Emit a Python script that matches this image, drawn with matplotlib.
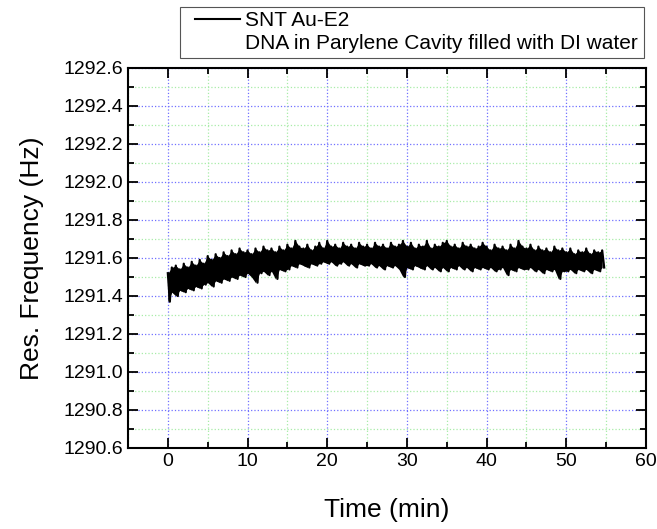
import numpy as np
import matplotlib.pyplot as plt
from matplotlib.lines import Line2D
from matplotlib.patches import Rectangle
from matplotlib.ticker import MultipleLocator

plt.rcParams['font.family'] = ['Liberation Sans', 'DejaVu Sans']

# time axis of the envelope readings (min), one reading every 0.5 min
t_start = 0.0
t_step = 0.5

# upper peaks of the trace (Hz)
upper = [
  1291.52, 1291.55, 1291.56, 1291.54, 1291.57, 1291.55, 1291.58, 1291.56, 1291.59, 1291.57,
  1291.61, 1291.59, 1291.62, 1291.60, 1291.63, 1291.61, 1291.64, 1291.62, 1291.65, 1291.63,
  1291.64, 1291.62, 1291.65, 1291.63, 1291.66, 1291.64, 1291.65, 1291.63, 1291.66, 1291.64,
  1291.67, 1291.65, 1291.69, 1291.66, 1291.65, 1291.67, 1291.64, 1291.66, 1291.68, 1291.65,
  1291.69, 1291.66, 1291.67, 1291.65, 1291.68, 1291.66, 1291.67, 1291.65, 1291.68, 1291.66,
  1291.67, 1291.65, 1291.68, 1291.66, 1291.67, 1291.65, 1291.68, 1291.66, 1291.67, 1291.69,
  1291.66, 1291.68, 1291.65, 1291.67, 1291.66, 1291.69, 1291.65, 1291.67, 1291.66, 1291.68,
  1291.69, 1291.66, 1291.67, 1291.65, 1291.68, 1291.66, 1291.67, 1291.65, 1291.66, 1291.68,
  1291.66, 1291.64, 1291.67, 1291.65, 1291.66, 1291.64, 1291.67, 1291.65, 1291.69, 1291.66,
  1291.65, 1291.67, 1291.64, 1291.66, 1291.64, 1291.65, 1291.63, 1291.66, 1291.64, 1291.65,
  1291.63, 1291.65, 1291.62, 1291.64, 1291.63, 1291.65, 1291.62, 1291.64, 1291.63, 1291.64,
]

# lower troughs of the trace (Hz), taken a quarter step later
lower = [
  1291.37, 1291.42, 1291.40, 1291.43, 1291.42, 1291.44, 1291.43, 1291.45, 1291.44, 1291.46,
  1291.47, 1291.45, 1291.48, 1291.47, 1291.49, 1291.48, 1291.50, 1291.49, 1291.51, 1291.50,
  1291.52, 1291.50, 1291.47, 1291.52, 1291.53, 1291.51, 1291.53, 1291.49, 1291.54, 1291.53,
  1291.54, 1291.56, 1291.55, 1291.57, 1291.56, 1291.55, 1291.57, 1291.56, 1291.57, 1291.58,
  1291.57, 1291.58, 1291.56, 1291.57, 1291.58, 1291.56, 1291.57, 1291.55, 1291.57, 1291.56,
  1291.56, 1291.57, 1291.55, 1291.56, 1291.54, 1291.56, 1291.55, 1291.56, 1291.54, 1291.50,
  1291.55, 1291.54, 1291.56, 1291.55, 1291.54, 1291.56, 1291.54, 1291.55, 1291.53, 1291.55,
  1291.53, 1291.55, 1291.54, 1291.56, 1291.54, 1291.55, 1291.53, 1291.55, 1291.54, 1291.55,
  1291.54, 1291.55, 1291.53, 1291.54, 1291.55, 1291.51, 1291.54, 1291.53, 1291.55, 1291.54,
  1291.54, 1291.55, 1291.53, 1291.54, 1291.52, 1291.54, 1291.53, 1291.54, 1291.49, 1291.53,
  1291.53, 1291.54, 1291.52, 1291.54, 1291.53, 1291.54, 1291.52, 1291.54, 1291.53, 1291.55,
]

legend_labels = ['SNT Au-E2', 'DNA in Parylene Cavity filled with DI water']


def build_trace(up, lo):
  # put peaks and troughs one after another so the line zigzags like the raw signal
  n = len(up)
  t_up = t_start + t_step * np.arange(n)
  t = np.empty(2 * n)
  f = np.empty(2 * n)
  t[0::2] = t_up
  t[1::2] = t_up + t_step / 2
  f[0::2] = up
  f[1::2] = lo
  return t_up, t, f


def main():
  W, H = 657, 529
  fig = plt.figure(figsize=(W / 100, H / 100), dpi=100)
  ax = fig.add_axes([128 / W, 1 - 448 / H, 518 / W, 380 / H])

  t_up, t, f = build_trace(upper, lower)
  # the raw signal is so dense it reads as a solid band
  ax.fill_between(t_up, upper, lower, color='black', linewidth=0, zorder=3)
  ax.plot(t, f, color='black', linewidth=1.6, zorder=3)

  ax.set_xlim(-5, 60)
  ax.set_ylim(1290.6, 1292.6)
  ax.xaxis.set_major_locator(MultipleLocator(10))
  ax.xaxis.set_minor_locator(MultipleLocator(5))
  ax.yaxis.set_major_locator(MultipleLocator(0.2))
  ax.yaxis.set_minor_locator(MultipleLocator(0.1))
  ax.yaxis.set_major_formatter(plt.FormatStrFormatter('%.1f'))

  ax.grid(True, which='major', color='#7070ff', linestyle=':', linewidth=0.9)
  ax.grid(True, which='minor', color='#a8eca8', linestyle=':', linewidth=0.9)
  ax.set_axisbelow(True)

  ax.tick_params(which='both', direction='in', top=True, right=True, width=1.3, labelsize=14)
  ax.tick_params(which='major', length=7)
  ax.tick_params(which='minor', length=4.5)
  for s in ax.spines.values():
    s.set_linewidth(1.5)

  ax.set_xlabel('Time (min)', fontsize=19, labelpad=20)
  ax.set_ylabel('Res. Frequency (Hz)', fontsize=19, labelpad=14)

  # legend box sits above the axes, frame drawn separately
  fig.patches.append(Rectangle((180 / W, 1 - 58 / H), 464 / W, 51 / H, transform=fig.transFigure,
                               facecolor='white', edgecolor='#555555', linewidth=0.8))
  handles = [Line2D([], [], color='black', linewidth=1.5), Line2D([], [], color='none')]
  fig.legend(handles, legend_labels, loc='upper left', bbox_to_anchor=(195 / W, 1 - 11 / H),
             fontsize=15, frameon=False, handlelength=2.15, handletextpad=0.25, borderpad=0,
             labelspacing=0.2, borderaxespad=0)

  plt.savefig('out.png', dpi=100)


if __name__ == '__main__':
  main()
